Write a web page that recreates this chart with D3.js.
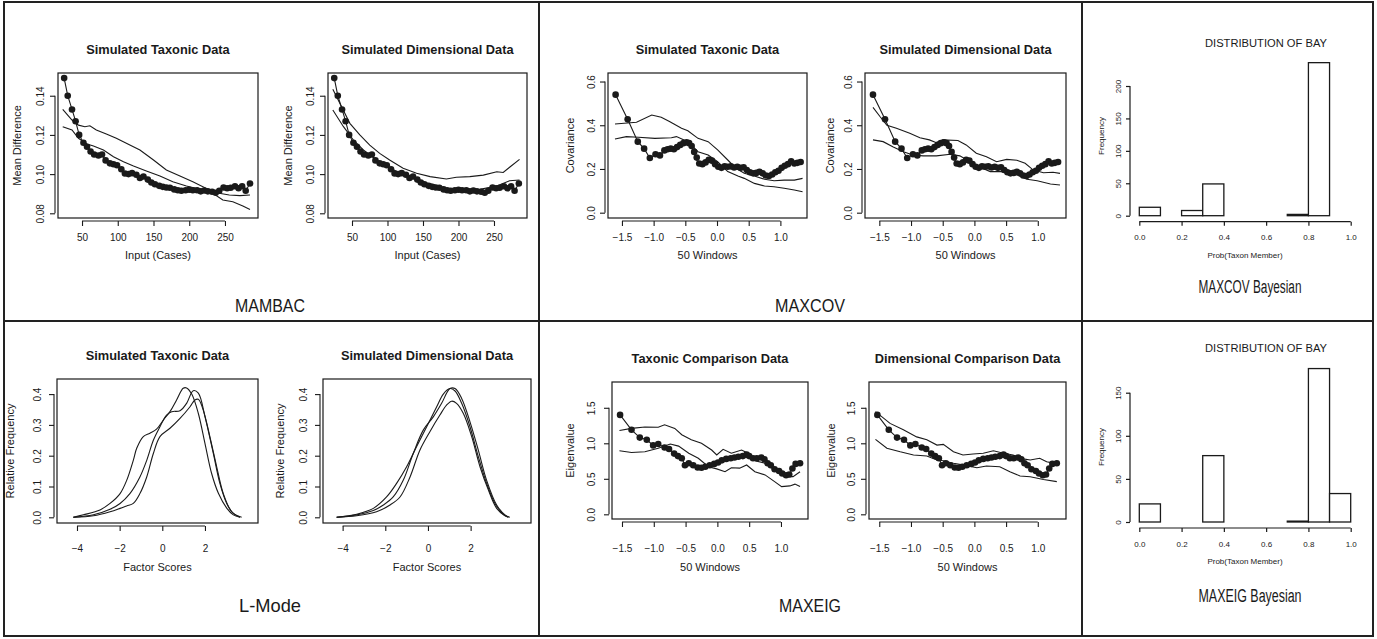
<!DOCTYPE html>
<html>
<head>
<meta charset="utf-8">
<script src="https://cdn.jsdelivr.net/npm/d3@7"></script>
<style>
  body { margin: 0; background: #fff; }
</style>
</head>
<body>
<script>
// ---- data ----
// MAMBAC curve of the real data (same in both MAMBAC panels)
var mambacX = [25,30,36,41,46,52,57,62,67,73,78,83,89,94,99,105,110,115,120,126,131,136,142,147,152,158,163,168,173,179,184,189,195,200,205,211,216,221,226,232,237,242,248,253,258,264,269,274,279,285];
var mambacY = [0.149,0.140,0.133,0.127,0.120,0.116,0.114,0.1115,0.110,0.1095,0.110,0.107,0.1055,0.105,0.1045,0.1025,0.1003,0.100,0.1005,0.0997,0.098,0.0988,0.0972,0.0957,0.0948,0.094,0.0935,0.0932,0.093,0.0922,0.0918,0.0915,0.0918,0.092,0.0918,0.0918,0.0912,0.0916,0.0912,0.091,0.0905,0.0915,0.0932,0.0928,0.093,0.0938,0.0928,0.0938,0.0915,0.0952];
var mambacTaxUpper = [[23,0.133],[36,0.1276],[45,0.125],[54,0.1242],[61,0.1247],[70,0.1225],[84,0.1205],[98,0.1183],[112,0.1157],[131,0.1123],[150,0.1072],[168,0.1021],[187,0.099],[205,0.0961],[224,0.0927],[238,0.0905],[256,0.0893],[271,0.089],[285,0.0893]];
var mambacTaxLower = [[23,0.1242],[36,0.1225],[45,0.1183],[57,0.1154],[66,0.1143],[80,0.1123],[94,0.1089],[108,0.1063],[122,0.1041],[140,0.1016],[159,0.099],[177,0.0961],[196,0.0939],[215,0.0922],[233,0.0902],[247,0.0868],[261,0.0859],[275,0.0837],[285,0.082]];
var mambacDimUpper = [[23,0.1433],[47,0.1259],[61,0.12],[75,0.1148],[89,0.1106],[103,0.1072],[122,0.103],[141,0.1004],[160,0.0987],[183,0.0975],[197,0.0984],[216,0.0987],[235,0.0995],[254,0.1012],[263,0.1008],[272,0.1035],[286,0.1075]];
var mambacDimLower = [[23,0.1327],[38,0.1242],[52,0.1174],[66,0.1123],[85,0.1072],[103,0.103],[122,0.1001],[141,0.097],[160,0.095],[183,0.0928],[207,0.0919],[230,0.0922],[254,0.0939],[272,0.0966],[286,0.097]];

// MAXCOV curve of the real data
var maxcovX = [-1.6,-1.41,-1.25,-1.15,-1.06,-0.97,-0.90,-0.83,-0.78,-0.73,-0.68,-0.63,-0.58,-0.53,-0.48,-0.44,-0.40,-0.36,-0.32,-0.28,-0.23,-0.18,-0.13,-0.08,-0.03,0.02,0.07,0.12,0.17,0.22,0.27,0.32,0.37,0.42,0.47,0.52,0.57,0.62,0.67,0.72,0.77,0.82,0.87,0.92,0.97,1.02,1.07,1.12,1.17,1.22,1.27,1.32];
var maxcovY = [0.54,0.427,0.325,0.293,0.25,0.267,0.262,0.285,0.29,0.293,0.29,0.30,0.31,0.318,0.322,0.318,0.305,0.278,0.252,0.225,0.222,0.23,0.242,0.238,0.222,0.21,0.205,0.212,0.21,0.212,0.207,0.21,0.205,0.208,0.195,0.185,0.18,0.182,0.187,0.18,0.17,0.168,0.175,0.185,0.192,0.205,0.215,0.222,0.235,0.225,0.228,0.232];
var maxcovTaxUpper = [[-1.61,0.406],[-1.27,0.414],[-1.03,0.447],[-0.88,0.437],[-0.75,0.417],[-0.56,0.386],[-0.46,0.375],[-0.30,0.34],[-0.14,0.325],[0.01,0.287],[0.17,0.241],[0.30,0.203],[0.43,0.18],[0.59,0.168],[0.75,0.153],[0.90,0.146],[1.06,0.149],[1.22,0.149],[1.35,0.157]];
var maxcovTaxLower = [[-1.61,0.337],[-1.43,0.348],[-1.24,0.345],[-0.98,0.34],[-0.72,0.343],[-0.64,0.348],[-0.46,0.325],[-0.30,0.279],[-0.14,0.264],[0.01,0.233],[0.17,0.188],[0.33,0.168],[0.43,0.157],[0.59,0.134],[0.75,0.122],[0.90,0.119],[1.06,0.112],[1.22,0.104],[1.35,0.096]];
var maxcovDimUpper = [[-1.6,0.482],[-1.49,0.44],[-1.38,0.40],[-1.23,0.386],[-1.02,0.363],[-0.86,0.343],[-0.71,0.333],[-0.6,0.32],[-0.5,0.333],[-0.26,0.33],[-0.13,0.31],[0.03,0.272],[0.19,0.256],[0.35,0.233],[0.51,0.244],[0.67,0.24],[0.80,0.226],[0.93,0.195],[1.09,0.183],[1.24,0.185],[1.35,0.18]];
var maxcovDimLower = [[-1.6,0.333],[-1.44,0.325],[-1.28,0.30],[-1.12,0.279],[-0.97,0.264],[-0.81,0.26],[-0.6,0.26],[-0.38,0.267],[-0.23,0.26],[-0.07,0.233],[0.09,0.208],[0.25,0.188],[0.46,0.188],[0.67,0.173],[0.83,0.153],[0.99,0.146],[1.2,0.131],[1.35,0.127]];

// MAXEIG curve of the real data
var maxeigX = [-1.53,-1.35,-1.22,-1.11,-1.01,-0.93,-0.83,-0.76,-0.68,-0.62,-0.56,-0.51,-0.45,-0.38,-0.31,-0.25,-0.19,-0.12,-0.05,0.01,0.07,0.14,0.21,0.27,0.33,0.40,0.46,0.50,0.56,0.62,0.69,0.74,0.79,0.84,0.90,0.97,1.02,1.08,1.13,1.18,1.23,1.30];
var maxeigY = [1.40,1.19,1.08,1.05,0.97,0.99,0.94,0.92,0.855,0.82,0.79,0.69,0.72,0.69,0.66,0.655,0.67,0.69,0.71,0.73,0.76,0.78,0.79,0.80,0.81,0.82,0.84,0.82,0.79,0.79,0.80,0.775,0.72,0.69,0.635,0.61,0.575,0.55,0.56,0.645,0.71,0.72];
var maxeigTaxUpper = [[-1.54,1.18],[-1.35,1.21],[-1.14,1.23],[-0.93,1.225],[-0.83,1.26],[-0.67,1.21],[-0.56,1.12],[-0.41,1.05],[-0.25,1.0],[-0.09,0.905],[-0.01,0.835],[0.09,0.915],[0.22,0.86],[0.38,0.905],[0.46,0.87],[0.59,0.755],[0.75,0.72],[0.90,0.625],[1.06,0.53],[1.19,0.53],[1.30,0.6]];
var maxeigTaxLower = [[-1.54,0.895],[-1.35,0.87],[-1.14,0.88],[-0.93,0.93],[-0.74,0.99],[-0.61,0.96],[-0.45,0.86],[-0.30,0.79],[-0.14,0.67],[-0.01,0.64],[0.12,0.60],[0.22,0.655],[0.35,0.65],[0.46,0.695],[0.59,0.60],[0.75,0.555],[0.90,0.46],[1.01,0.39],[1.14,0.40],[1.22,0.425],[1.30,0.39]];
var maxeigDimUpper = [[-1.56,1.445],[-1.33,1.28],[-1.12,1.19],[-0.91,1.09],[-0.75,1.05],[-0.59,0.975],[-0.49,0.985],[-0.33,0.88],[-0.18,0.835],[-0.02,0.85],[0.14,0.86],[0.30,0.895],[0.46,0.86],[0.61,0.835],[0.77,0.78],[0.88,0.765],[1.03,0.79],[1.14,0.74],[1.30,0.71]];
var maxeigDimLower = [[-1.56,1.056],[-1.38,0.93],[-1.17,0.88],[-0.96,0.835],[-0.75,0.82],[-0.59,0.765],[-0.49,0.755],[-0.33,0.72],[-0.12,0.685],[0.04,0.655],[0.19,0.68],[0.40,0.67],[0.56,0.60],[0.72,0.54],[0.88,0.53],[1.09,0.49],[1.30,0.46]];

// L-Mode densities (three curves per panel)
var lmodeTax1 = [[-4.17,0],[-3.70,0.008],[-2.92,0.024],[-2.45,0.045],[-1.98,0.077],[-1.67,0.12],[-1.36,0.185],[-1.20,0.224],[-0.89,0.262],[-0.58,0.273],[-0.27,0.286],[0.05,0.316],[0.36,0.343],[0.67,0.381],[0.98,0.419],[1.14,0.42],[1.38,0.40],[1.69,0.337],[2.00,0.24],[2.31,0.143],[2.63,0.078],[3.02,0.03],[3.33,0.008],[3.64,0]];
var lmodeTax2 = [[-4.17,0],[-3.23,0.008],[-2.45,0.026],[-1.98,0.045],[-1.52,0.077],[-1.05,0.131],[-0.73,0.185],[-0.42,0.25],[-0.11,0.294],[0.20,0.332],[0.44,0.343],[0.83,0.346],[1.14,0.37],[1.45,0.411],[1.69,0.403],[2.00,0.327],[2.39,0.208],[2.70,0.11],[3.02,0.045],[3.33,0.013],[3.72,0]];
var lmodeTax3 = [[-4.17,0],[-3.23,0.005],[-2.45,0.018],[-1.98,0.029],[-1.67,0.037],[-1.36,0.045],[-1.05,0.077],[-0.73,0.131],[-0.42,0.207],[-0.11,0.262],[0.36,0.289],[0.83,0.321],[1.30,0.359],[1.53,0.381],[1.69,0.383],[1.92,0.348],[2.23,0.262],[2.55,0.164],[2.86,0.077],[3.25,0.018],[3.64,0]];
var lmodeDim1 = [[-4.28,0],[-3.34,0.01],[-2.56,0.029],[-1.94,0.066],[-1.47,0.11],[-1.0,0.164],[-0.53,0.23],[-0.06,0.294],[0.41,0.359],[0.72,0.40],[1.03,0.418],[1.27,0.41],[1.58,0.37],[1.97,0.294],[2.36,0.197],[2.75,0.11],[3.14,0.045],[3.53,0.01],[3.77,0]];
var lmodeDim2 = [[-4.28,0],[-3.34,0.008],[-2.56,0.022],[-2.09,0.04],[-1.63,0.066],[-1.16,0.12],[-0.69,0.207],[-0.22,0.283],[0.25,0.326],[0.64,0.37],[1.03,0.418],[1.27,0.418],[1.58,0.386],[1.97,0.31],[2.36,0.218],[2.75,0.12],[3.22,0.04],[3.61,0.008],[3.84,0]];
var lmodeDim3 = [[-4.28,0],[-3.34,0.005],[-2.41,0.018],[-1.78,0.04],[-1.31,0.066],[-0.84,0.131],[-0.38,0.218],[0.09,0.278],[0.56,0.332],[0.87,0.364],[1.11,0.377],[1.34,0.37],[1.66,0.337],[2.05,0.262],[2.44,0.164],[2.83,0.089],[3.22,0.029],[3.61,0.005],[3.77,0]];

// Bayesian probability histograms
var bayesBreaks = [0,0.1,0.2,0.3,0.4,0.5,0.6,0.7,0.8,0.9,1.0];
var bayesCovCounts = [13,0,8,49,0,0,0,2,236,0];
var bayesEigCounts = [21,0,0,77,0,0,0,1,178,33];

// ---- drawing ----
var FONT = "'Liberation Sans', Arial, Helvetica, sans-serif";
var INK = "#1a1a1a";

var svg = d3.select("body").append("svg")
  .attr("width", 1377)
  .attr("height", 639);

svg.append("rect").attr("width", 1377).attr("height", 639).attr("fill", "#fff");

function label(x, y, s, size, opt) {
  opt = opt || {};
  var t = svg.append("text")
    .attr("x", x).attr("y", y)
    .attr("font-family", FONT)
    .attr("font-size", size)
    .attr("text-anchor", "middle")
    .attr("fill", INK)
    .text(s);
  if (opt.bold) t.attr("font-weight", "bold");
  if (opt.rot) t.attr("transform", `rotate(-90,${x},${y})`);
  if (opt.len) t.attr("textLength", opt.len).attr("lengthAdjust", "spacingAndGlyphs");
  return t;
}

// outer frame and dividers
var frame = svg.append("g").attr("stroke", "#222").attr("stroke-width", 2).attr("fill", "none");
frame.append("rect").attr("x", 4).attr("y", 2).attr("width", 1369).attr("height", 634);
frame.append("line").attr("x1", 4).attr("x2", 1373).attr("y1", 321).attr("y2", 321);
frame.append("line").attr("x1", 539).attr("x2", 539).attr("y1", 2).attr("y2", 636);
frame.append("line").attr("x1", 1082).attr("x2", 1082).attr("y1", 2).attr("y2", 636);

function linePanel(p) {
  var x = d3.scaleLinear().domain(p.xd).range([p.box[0], p.box[2]]);
  var y = d3.scaleLinear().domain(p.yd).range([p.box[3], p.box[1]]);
  var g = svg.append("g");

  g.append("rect")
    .attr("x", p.box[0]).attr("y", p.box[1])
    .attr("width", p.box[2] - p.box[0]).attr("height", p.box[3] - p.box[1])
    .attr("fill", "none").attr("stroke", INK).attr("stroke-width", 1.2);

  var axY = p.box[3] + 3;
  var xa = g.append("g").attr("transform", `translate(0,${axY})`)
    .call(d3.axisBottom(x).tickValues(p.xt).tickFormat(p.xf).tickSize(5).tickSizeOuter(0));
  xa.select(".domain").attr("d", `M${x(p.xt[0])},0H${x(p.xt[p.xt.length - 1])}`);
  xa.selectAll(".tick text").attr("y", p.xtBase - axY).attr("dy", 0);

  var axX = p.box[0] - 3;
  var ya = g.append("g").attr("transform", `translate(${axX},0)`)
    .call(d3.axisLeft(y).tickValues(p.yt).tickFormat(p.yf).tickSize(5).tickSizeOuter(0));
  ya.select(".domain").attr("d", `M0,${y(p.yt[0])}V${y(p.yt[p.yt.length - 1])}`);
  ya.selectAll(".tick text")
    .attr("transform", "rotate(-90)")
    .attr("x", 0).attr("y", -p.ytOff).attr("dy", 0)
    .attr("text-anchor", "middle");

  [xa, ya].forEach(function(a) {
    a.attr("font-family", FONT).attr("font-size", 10);
    a.selectAll("path, line").attr("stroke", INK).attr("stroke-width", 1.1);
    a.selectAll("text").attr("fill", INK);
  });

  var cx = (p.box[0] + p.box[2]) / 2;
  label(cx, p.box[1] - 19, p.title, 12.8, {bold: true});
  label(cx, p.xlBase, p.xlab, 11);
  label(p.ylx, (p.box[1] + p.box[3]) / 2, p.ylab, 11, {rot: true});

  var line = d3.line().x(d => x(d[0])).y(d => y(d[1]));
  if (p.smooth) line.curve(d3.curveCatmullRom.alpha(0.5));
  p.lines.forEach(function(l) {
    g.append("path").datum(l).attr("d", line)
      .attr("fill", "none").attr("stroke", INK).attr("stroke-width", 1.1);
  });

  if (p.dotsX) {
    var pts = d3.zip(p.dotsX, p.dotsY);
    g.append("path").datum(pts).attr("d", line)
      .attr("fill", "none").attr("stroke", INK).attr("stroke-width", 1.1);
    g.selectAll("circle.dot").data(pts).enter().append("circle")
      .attr("class", "dot")
      .attr("cx", d => x(d[0])).attr("cy", d => y(d[1]))
      .attr("r", 3.3).attr("fill", INK);
  }
}

var f2 = d3.format(".2f"), f1 = d3.format(".1f"), f0 = d3.format("d");
var winTicks = [-1.5, -1.0, -0.5, 0.0, 0.5, 1.0];

// MAMBAC
linePanel({box: [58, 73, 258, 218], xd: [16.4, 296.2], yd: [0.0776, 0.1516],
  xt: [50, 100, 150, 200, 250], xf: f0, yt: [0.08, 0.10, 0.12, 0.14], yf: f2,
  xtBase: 241, ytOff: 11, xlBase: 259, ylx: 21,
  title: "Simulated Taxonic Data", xlab: "Input (Cases)", ylab: "Mean Difference",
  lines: [mambacTaxUpper, mambacTaxLower], dotsX: mambacX, dotsY: mambacY});
linePanel({box: [328, 73, 527, 218], xd: [16.2, 296.5], yd: [0.0776, 0.1516],
  xt: [50, 100, 150, 200, 250], xf: f0, yt: [0.08, 0.10, 0.12, 0.14], yf: f2,
  xtBase: 241, ytOff: 11, xlBase: 259, ylx: 292,
  title: "Simulated Dimensional Data", xlab: "Input (Cases)", ylab: "Mean Difference",
  lines: [mambacDimUpper, mambacDimLower], dotsX: mambacX, dotsY: mambacY});

// MAXCOV
linePanel({box: [608, 73, 807, 218], xd: [-1.72, 1.42], yd: [-0.0243, 0.639],
  xt: winTicks, xf: f1, yt: [0, 0.2, 0.4, 0.6], yf: f1,
  xtBase: 241, ytOff: 10, xlBase: 259, ylx: 574,
  title: "Simulated Taxonic Data", xlab: "50 Windows", ylab: "Covariance",
  lines: [maxcovTaxUpper, maxcovTaxLower], dotsX: maxcovX, dotsY: maxcovY});
linePanel({box: [865, 73, 1066, 218], xd: [-1.726, 1.445], yd: [-0.0243, 0.639],
  xt: winTicks, xf: f1, yt: [0, 0.2, 0.4, 0.6], yf: f1,
  xtBase: 241, ytOff: 10, xlBase: 259, ylx: 834,
  title: "Simulated Dimensional Data", xlab: "50 Windows", ylab: "Covariance",
  lines: [maxcovDimUpper, maxcovDimLower], dotsX: maxcovX, dotsY: maxcovY});

// L-Mode
linePanel({box: [57, 379, 258, 523], xd: [-4.937, 4.487], yd: [-0.0185, 0.449],
  xt: [-4, -2, 0, 2], xf: f0, yt: [0, 0.1, 0.2, 0.3, 0.4], yf: f1,
  xtBase: 552, ytOff: 13, xlBase: 571, ylx: 14, smooth: true,
  title: "Simulated Taxonic Data", xlab: "Factor Scores", ylab: "Relative Frequency",
  lines: [lmodeTax1, lmodeTax2, lmodeTax3]});
linePanel({box: [323, 379, 531, 523], xd: [-4.92, 4.83], yd: [-0.0185, 0.449],
  xt: [-4, -2, 0, 2], xf: f0, yt: [0, 0.1, 0.2, 0.3, 0.4], yf: f1,
  xtBase: 552, ytOff: 13, xlBase: 571, ylx: 284, smooth: true,
  title: "Simulated Dimensional Data", xlab: "Factor Scores", ylab: "Relative Frequency",
  lines: [lmodeDim1, lmodeDim2, lmodeDim3]});

// MAXEIG
linePanel({box: [612, 382, 808, 519], xd: [-1.657, 1.425], yd: [-0.066, 1.863],
  xt: winTicks, xf: f1, yt: [0, 0.5, 1.0, 1.5], yf: f1,
  xtBase: 552, ytOff: 14, xlBase: 571, ylx: 574,
  title: "Taxonic Comparison Data", xlab: "50 Windows", ylab: "Eigenvalue",
  lines: [maxeigTaxUpper, maxeigTaxLower], dotsX: maxeigX, dotsY: maxeigY});
linePanel({box: [869, 382, 1066, 519], xd: [-1.662, 1.445], yd: [-0.066, 1.863],
  xt: winTicks, xf: f1, yt: [0, 0.5, 1.0, 1.5], yf: f1,
  xtBase: 552, ytOff: 11, xlBase: 571, ylx: 835,
  title: "Dimensional Comparison Data", xlab: "50 Windows", ylab: "Eigenvalue",
  lines: [maxeigDimUpper, maxeigDimLower], dotsX: maxeigX, dotsY: maxeigY});

// Bayesian histograms
function histPanel(p) {
  var x = d3.scaleLinear().domain([0, 1]).range([1139.3, 1350.7]);
  var y = d3.scaleLinear().domain([0, p.yRef]).range([p.y0, p.yRefPx]);
  var g = svg.append("g");
  var bins = p.counts.map((c, i) => ({x0: bayesBreaks[i], x1: bayesBreaks[i + 1], n: c}));

  g.selectAll("rect").data(bins).enter().append("rect")
    .attr("x", d => x(d.x0)).attr("width", d => x(d.x1) - x(d.x0))
    .attr("y", d => y(d.n)).attr("height", d => y(0) - y(d.n))
    .attr("fill", "#fff").attr("stroke", INK).attr("stroke-width", 1.3);

  var xa = g.append("g").attr("transform", `translate(0,${p.y0 + 6})`)
    .call(d3.axisBottom(x).tickValues([0, 0.2, 0.4, 0.6, 0.8, 1.0]).tickFormat(d3.format(".1f")).tickSize(4).tickSizeOuter(0));
  xa.select(".domain").attr("d", `M${x(0)},0H${x(1)}`);
  xa.selectAll(".tick text").attr("y", p.xtBase - p.y0 - 6).attr("dy", 0);

  var ya = g.append("g").attr("transform", "translate(1130,0)")
    .call(d3.axisLeft(y).tickValues(p.yt).tickFormat(d3.format("d")).tickSize(4).tickSizeOuter(0));
  ya.select(".domain").attr("d", `M0,${y(p.yt[0])}V${y(p.yt[p.yt.length - 1])}`);
  ya.selectAll(".tick text")
    .attr("transform", "rotate(-90)")
    .attr("x", 0).attr("y", -9).attr("dy", 0)
    .attr("text-anchor", "middle");

  [xa, ya].forEach(function(a) {
    a.attr("font-family", FONT).attr("font-size", 8);
    a.selectAll("path, line").attr("stroke", INK).attr("stroke-width", 1.2);
    a.selectAll("text").attr("fill", INK);
  });

  label(1266, p.titleBase, "DISTRIBUTION OF BAY", 10, {len: 122});
  label(1245, p.xlBase, "Prob(Taxon Member)", 8);
  label(1104, p.ylMid, "Frequency", 8, {rot: true});
  label(1250, p.capBase, p.caption, 18, {len: 103});
}

histPanel({counts: bayesCovCounts, y0: 215.7, yRef: 200, yRefPx: 86, yt: [0, 50, 100, 150, 200],
  xtBase: 240, xlBase: 257.5, titleBase: 46.5, ylMid: 136, capBase: 293, caption: "MAXCOV Bayesian"});
histPanel({counts: bayesEigCounts, y0: 522, yRef: 150, yRefPx: 392.7, yt: [0, 50, 100, 150],
  xtBase: 547, xlBase: 564, titleBase: 351.5, ylMid: 447, capBase: 602, caption: "MAXEIG Bayesian"});

// method captions
label(270, 312, "MAMBAC", 19, {len: 70});
label(810, 312, "MAXCOV", 19, {len: 70});
label(270, 612, "L-Mode", 19, {len: 62});
label(810, 612, "MAXEIG", 19, {len: 62});
</script>
</body>
</html>
